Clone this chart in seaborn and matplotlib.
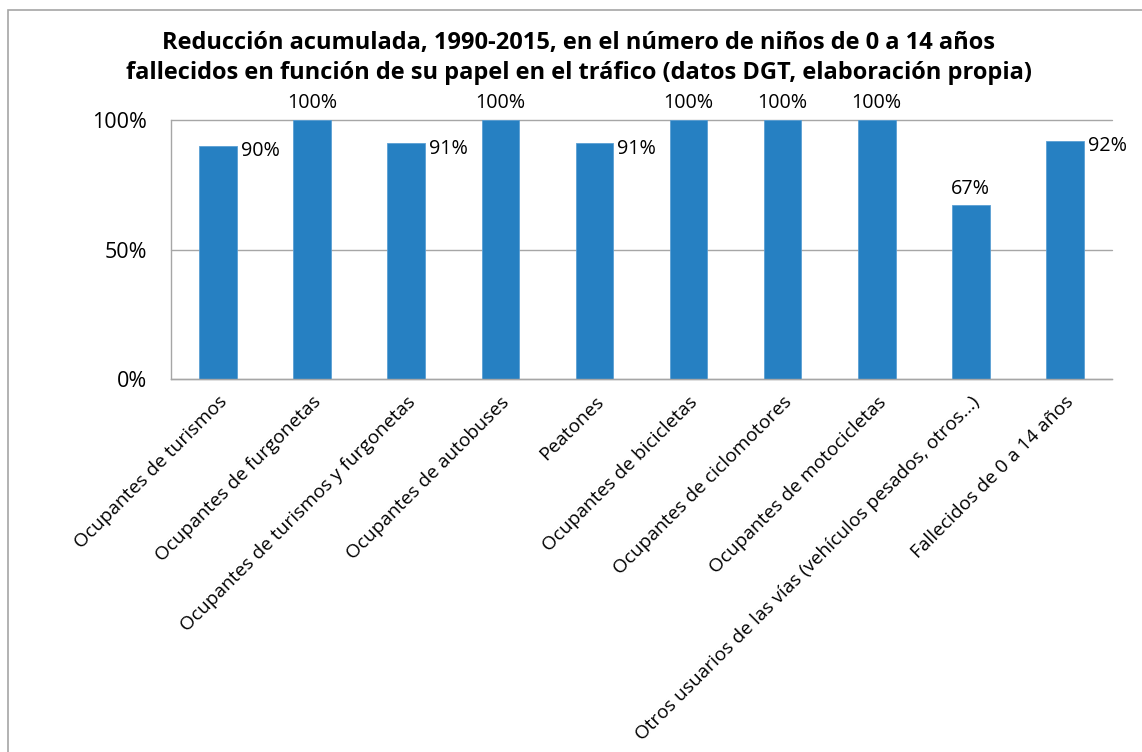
import matplotlib
matplotlib.use("Agg")
import matplotlib.pyplot as plt
import seaborn as sns
import pandas as pd
from matplotlib.patches import Rectangle

categories = [
    "Ocupantes de turismos",
    "Ocupantes de furgonetas",
    "Ocupantes de turismos y furgonetas",
    "Ocupantes de autobuses",
    "Peatones",
    "Ocupantes de bicicletas",
    "Ocupantes de ciclomotores",
    "Ocupantes de motocicletas",
    "Otros usuarios de las vías (vehículos pesados, otros...)",
    "Fallecidos de 0 a 14 años",
]
values = [90, 100, 91, 100, 91, 100, 100, 100, 67, 92]
y_ticks = [0, 50, 100]
y_tick_labels = ["0%", "50%", "100%"]
title = ("Reducción acumulada, 1990-2015, en el número de niños de 0 a 14 años\n"
         "fallecidos en función de su papel en el tráfico (datos DGT, elaboración propia)")

# label placement style (Excel-like manual placement)
label_side = ["right", "top", "right", "top", "right", "top", "top", "top", "top", "right"]

sns.set_theme(style="white")
plt.rcParams["font.family"] = ["Open Sans", "DejaVu Sans"]
plt.rcParams["text.color"] = "black"
plt.rcParams["xtick.color"] = "black"
plt.rcParams["ytick.color"] = "black"

df = pd.DataFrame({"cat": categories, "val": values})

fig = plt.figure(figsize=(11.42, 7.52), dpi=100)
ax = fig.add_axes([171 / 1142, 1 - 379 / 752, (1112 - 171) / 1142, (379 - 120) / 752])

bar_color = "#2680C2"
sns.barplot(data=df, x="cat", y="val", color=bar_color, width=0.4, ax=ax,
            saturation=1, edgecolor="#5A9FD4", linewidth=0.6, zorder=2)

ax.set_ylim(0, 100)
ax.set_yticks(y_ticks)
ax.set_yticklabels(y_tick_labels, fontsize=15.5)
ax.tick_params(axis="y", length=0, pad=17, labelcolor="black")
ax.tick_params(axis="x", length=0, pad=10, labelcolor="black")
ax.set_xticks(range(len(categories)))
ax.set_xticklabels(categories, rotation=45, ha="right", rotation_mode="anchor", fontsize=13.8)
ax.set_xlabel("")
ax.set_ylabel("")

ax.grid(axis="y", color="#A6A6A6", linewidth=1.0, zorder=0)
for g in ax.get_ygridlines():
    g.set_clip_on(False)
ax.set_axisbelow(True)
for s in ["top", "right"]:
    ax.spines[s].set_visible(False)
for s in ["left", "bottom"]:
    ax.spines[s].set_color("#A6A6A6")
    ax.spines[s].set_linewidth(1.0)

for p, v, side in zip(ax.patches, values, label_side):
    x = p.get_x() + p.get_width() / 2
    h = p.get_height()
    if side == "right":
        ax.annotate(f"{v}%", xy=(p.get_x() + p.get_width(), h), xytext=(3, -4),
                    textcoords="offset points", ha="left", va="center", fontsize=14.2,
                    color="black")
    else:
        ax.annotate(f"{v}%", xy=(x, h), xytext=(0, 5), textcoords="offset points",
                    ha="center", va="bottom", fontsize=14.2, color="black")

fig.text(0.507, 1 - 31 / 752, title, ha="center", va="top", fontsize=17,
         fontweight="bold", linespacing=1.35, color="black")

fig.patches.append(Rectangle((8 / 1142, -0.05), 1.2, 1 - 10 / 752 + 0.05,
                             transform=fig.transFigure, fill=False,
                             edgecolor="#A6A6A6", linewidth=1.2))

fig.savefig("out.png", dpi=100)
